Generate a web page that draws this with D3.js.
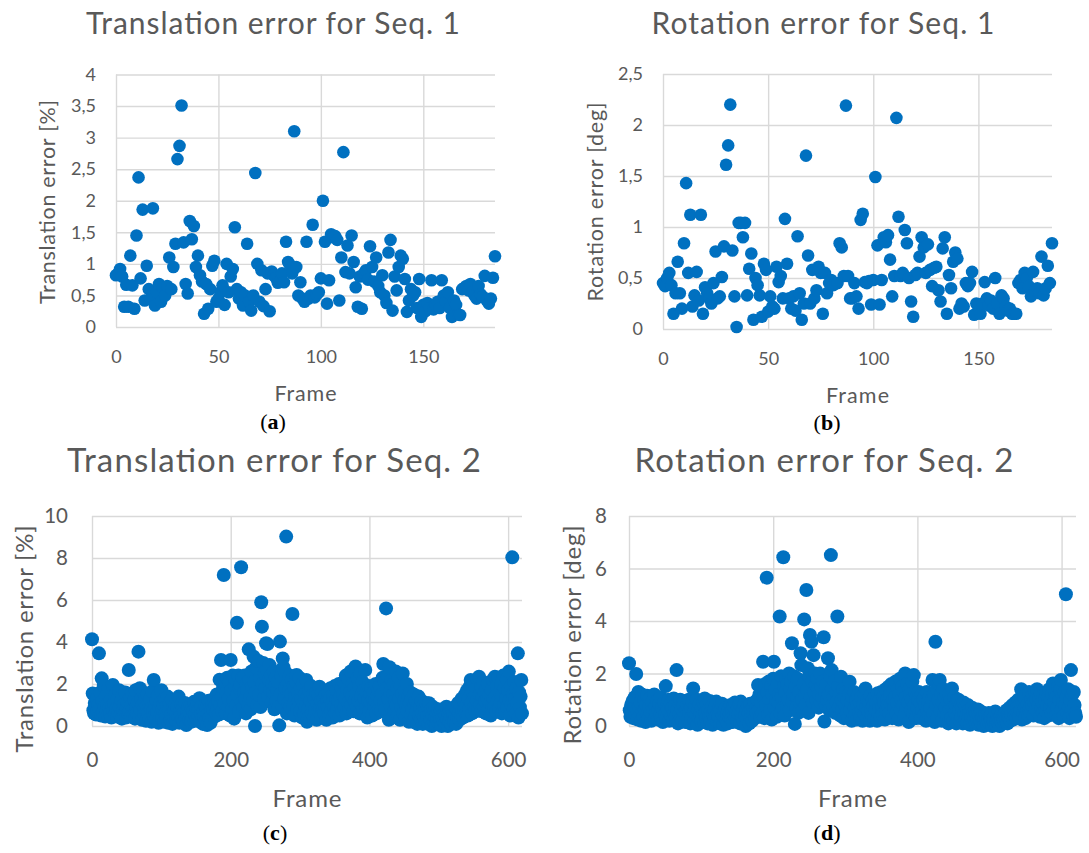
<!DOCTYPE html>
<html>
<head>
<meta charset="utf-8">
<script src="https://cdn.jsdelivr.net/npm/d3@7/dist/d3.min.js"></script>
<style>
  body { margin: 0; background: #fff; }
  svg { display: block; font-family: Lato, "Open Sans", sans-serif; }
</style>
</head>
<body>
<script>
// Seq. 1 – one value per frame (0..185)
var seq1Translation = [
  0.82, 0.85, 0.92, 0.8, 0.32, 0.67, 0.32, 1.13, 0.66, 0.29,
  1.45, 2.37, 0.77, 1.86, 0.42, 0.97, 0.6, 0.45, 1.88, 0.34,
  0.55, 0.68, 0.4, 0.62, 0.5, 0.65, 1.1, 0.6, 0.95, 1.32,
  2.66, 2.87, 3.51, 1.34, 0.68, 0.53, 1.68, 1.39, 1.6, 0.95,
  1.13, 0.82, 0.72, 0.21, 0.68, 0.29, 0.6, 0.97, 1.05, 0.4,
  0.45, 0.55, 0.66, 0.35, 1.0, 0.55, 0.8, 0.92, 1.58, 0.6,
  0.45, 0.55, 0.34, 0.5, 1.32, 0.4, 0.26, 0.5, 2.44, 1.0,
  0.4, 0.9, 0.33, 0.6, 0.85, 0.25, 0.88, 0.82, 0.78, 0.7,
  0.72, 0.85, 0.71, 1.35, 1.03, 0.98, 0.85, 3.1, 0.95, 0.5,
  0.71, 0.45, 0.4, 1.35, 0.45, 0.5, 1.62, 0.47, 0.52, 0.55,
  0.77, 2.0, 1.35, 0.37, 0.74, 1.47, 1.42, 1.44, 1.38, 0.42,
  1.1, 2.77, 0.87, 1.29, 0.85, 1.45, 1.03, 0.63, 0.32, 0.8,
  0.29, 0.85, 0.9, 0.75, 1.28, 0.95, 0.72, 1.1, 0.65, 0.55,
  0.82, 0.5, 0.38, 1.18, 1.38, 0.26, 0.8, 0.58, 0.95, 1.13,
  1.08, 0.76, 0.24, 0.42, 0.6, 0.5, 0.55, 0.3, 0.76, 0.16,
  0.35, 0.25, 0.38, 0.3, 0.74, 0.28, 0.35, 0.4, 0.3, 0.74,
  0.5, 0.4, 0.55, 0.3, 0.16, 0.42, 0.35, 0.2, 0.19, 0.6,
  0.62, 0.65, 0.58, 0.68, 0.55, 0.5, 0.45, 0.65, 0.52, 0.48,
  0.81, 0.42, 0.37, 0.45, 0.78, 1.12
];
var seq1Rotation = [
  0.45, 0.42, 0.5, 0.55, 0.43, 0.15, 0.35, 0.66, 0.35, 0.2,
  0.84, 1.43, 0.55, 1.12, 0.22, 0.33, 0.56, 0.28, 1.12, 0.15,
  0.41, 0.35, 0.3, 0.25, 0.45, 0.76, 0.3, 0.32, 0.51, 0.81,
  1.61, 1.8, 2.2, 0.77, 0.32, 0.02, 1.04, 1.04, 0.9, 1.04,
  0.33, 0.59, 0.74, 0.09, 0.5, 0.43, 0.33, 0.12, 0.64, 0.58,
  0.17, 0.32, 0.22, 0.2, 0.61, 0.46, 0.52, 0.3, 1.08, 0.64,
  0.3, 0.2, 0.32, 0.18, 0.91, 0.35, 0.09, 0.25, 1.7, 0.72,
  0.25, 0.58, 0.3, 0.38, 0.61, 0.55, 0.15, 0.55, 0.35, 0.45,
  0.48, 0.43, 0.45, 0.45, 0.84, 0.8, 0.52, 2.19, 0.52, 0.3,
  0.3, 0.45, 0.32, 0.2, 1.07, 1.13, 0.46, 0.45, 0.47, 0.24,
  0.48, 1.49, 0.82, 0.24, 0.48, 0.9, 0.85, 0.92, 0.68, 0.32,
  0.52, 2.07, 1.1, 0.52, 0.55, 0.97, 0.84, 0.5, 0.27, 0.12,
  0.53, 0.55, 0.71, 0.9, 0.8, 0.55, 0.83, 0.58, 0.42, 0.6,
  0.61, 0.38, 0.27, 0.79, 0.9, 0.15, 0.53, 0.4, 0.66, 0.75,
  0.69, 0.2, 0.25, 0.22, 0.45, 0.42, 0.45, 0.56, 0.14, 0.25,
  0.22, 0.15, 0.25, 0.46, 0.3, 0.23, 0.28, 0.2, 0.5, 0.25,
  0.15, 0.33, 0.3, 0.22, 0.18, 0.2, 0.15, 0.15, 0.15, 0.45,
  0.48, 0.4, 0.55, 0.5, 0.42, 0.32, 0.56, 0.38, 0.4, 0.35,
  0.71, 0.33, 0.4, 0.62, 0.45, 0.84
];

// Seq. 2 – one value per frame (0..620)
var seq2Translation = [
  4.13, 1.55, 0.75, 0.6, 1.1, 0.9, 0.55, 1.3, 0.7, 1.0, 3.46, 0.8, 1.6, 0.5, 2.27, 1.2, 0.65, 1.9, 0.9, 0.45,
  1.4, 0.7, 1.05, 0.5, 1.8, 0.85, 0.6, 1.25, 0.4, 0.95, 1.95, 0.7, 1.1, 0.55, 1.5, 0.8, 0.45, 1.3, 0.65, 1.7,
  0.9, 0.5, 1.2, 0.35, 1.45, 0.75, 1.0, 0.55, 1.6, 0.4, 0.85, 1.15, 0.6, 2.67, 0.7, 1.35, 0.45, 1.0, 1.55, 0.8,
  0.5, 1.25, 0.35, 1.7, 0.9, 0.6, 1.1, 3.54, 0.45, 1.8, 0.75, 1.3, 0.3, 1.0, 1.6, 0.55, 0.85, 1.4, 0.25, 0.95,
  1.5, 0.6, 1.1, 0.35, 1.3, 0.8, 0.2, 1.65, 0.7, 2.19, 0.45, 1.0, 0.3, 1.2, 0.65, 1.45, 0.15, 0.9, 1.1, 0.5,
  1.7, 0.35, 0.8, 1.05, 0.2, 1.3, 0.6, 0.4, 0.95, 1.4, 0.15, 0.75, 1.1, 0.3, 0.55, 1.25, 0.1, 0.85, 0.45, 0.7,
  1.0, 0.25, 0.6, 0.9, 0.4, 1.4, 0.15, 0.7, 0.5, 1.05, 0.3, 0.8, 0.2, 0.65, 1.1, 0.35, 0.05, 0.75, 0.45, 0.9,
  0.3, 0.6, 1.0, 0.2, 0.8, 0.4, 0.7, 1.15, 0.25, 0.55, 0.9, 0.35, 1.1, 0.5, 0.75, 1.32, 0.2, 0.6, 0.95, 0.4,
  0.1, 0.7, 0.45, 1.0, 0.25, 0.85, 0.05, 0.6, 1.2, 0.35, 0.9, 0.15, 0.7, 1.1, 0.5, 0.8, 1.3, 0.45, 1.0, 0.6,
  1.5, 0.8, 1.2, 0.55, 2.2, 1.0, 3.14, 1.4, 0.7, 1.8, 7.19, 1.1, 2.0, 0.6, 1.6, 2.3, 0.9, 1.3, 2.1, 0.5,
  3.14, 1.7, 0.8, 2.4, 1.2, 0.35, 1.9, 2.2, 1.0, 4.92, 1.5, 2.4, 0.7, 1.8, 2.0, 7.56, 1.1, 2.3, 0.9, 1.6,
  2.4, 1.3, 0.6, 2.0, 1.7, 1.0, 3.65, 2.2, 1.4, 0.8, 2.6, 1.9, 1.2, 3.3, 2.1, 0.0, 1.6, 2.8, 1.0, 2.75,
  3.1, 1.5, 2.3, 0.9, 5.89, 4.73, 2.0, 3.0, 1.3, 2.5, 1.8, 3.94, 2.7, 3.9, 1.4, 2.2, 2.9, 1.7, 2.4, 1.1,
  2.0, 1.6, 2.6, 0.8, 1.9, 2.3, 1.2, 1.7, 2.1, 0.9, 0.03, 4.02, 1.5, 2.4, 1.0, 3.22, 2.8, 1.3, 2.6, 1.8,
  9.02, 0.6, 2.0, 1.1, 1.7, 2.4, 0.9, 1.5, 2.2, 5.33, 1.0, 1.9, 0.5, 1.4, 2.1, 2.43, 0.8, 1.6, 1.2, 2.3,
  0.7, 1.8, 1.3, 0.4, 2.0, 1.1, 0.6, 1.5, 0.9, 2.19, 0.2, 1.4, 0.8, 1.7, 0.5, 1.2, 1.9, 0.6, 1.0, 1.5,
  0.4, 1.3, 0.8, 1.6, 0.3, 1.1, 1.5, 0.7, 1.87, 0.9, 1.2, 0.5, 1.6, 0.8, 1.3, 0.6, 1.0, 1.5, 0.3, 1.2,
  0.9, 1.6, 0.5, 1.3, 1.8, 0.7, 1.1, 0.4, 1.5, 0.9, 1.9, 0.6, 1.3, 1.7, 0.8, 1.2, 2.0, 0.5, 1.4, 1.0,
  1.8, 0.7, 1.5, 2.1, 0.9, 1.3, 2.4, 0.6, 1.7, 1.1, 2.2, 0.8, 1.6, 2.6, 1.0, 1.4, 2.0, 0.7, 1.8, 1.2,
  2.83, 1.5, 0.9, 2.3, 1.2, 1.9, 0.6, 2.5, 1.4, 1.0, 2.1, 0.8, 1.7, 1.3, 2.67, 0.9, 1.6, 0.4, 1.2, 1.9,
  0.7, 1.5, 1.1, 1.8, 0.5, 1.3, 1.6, 0.9, 1.2, 2.0, 0.6, 1.4, 1.0, 1.7, 0.8, 1.9, 1.2, 0.7, 1.5, 2.3,
  2.95, 1.1, 2.1, 0.8, 5.6, 1.8, 2.4, 1.3, 0.3, 2.8, 1.6, 0.9, 2.2, 0.4, 1.5, 2.0, 0.7, 1.2, 2.6, 1.0,
  1.8, 0.5, 2.3, 1.3, 0.3, 1.9, 0.9, 1.5, 2.5, 0.6, 1.2, 1.7, 0.4, 1.0, 2.0, 0.7, 1.4, 0.2, 1.1, 1.6,
  0.5, 1.3, 0.8, 0.2, 1.5, 1.0, 0.4, 1.2, 0.7, 0.1, 1.1, 1.4, 0.5, 0.9, 0.3, 1.2, 0.6, 0.1, 1.0, 0.4,
  0.8, 0.2, 1.1, 0.5, 0.9, 0.1, 1.08, 0.6, 0.3, 0.8, 0.0, 0.5, 0.9, 0.2, 0.7, 0.4, 0.1, 0.6, 0.3, 0.8,
  0.1, 0.5, 0.3, 0.7, 0.0, 0.4, 0.8, 0.2, 0.6, 0.1, 0.5, 0.92, 0.3, 0.0, 0.6, 0.2, 0.7, 0.4, 0.1, 0.8,
  0.3, 0.6, 0.2, 0.9, 0.5, 0.1, 0.8, 0.4, 1.1, 0.6, 0.3, 1.0, 0.5, 1.3, 0.7, 0.4, 1.2, 0.8, 1.5, 0.6,
  1.0, 1.7, 0.5, 1.3, 0.8, 1.9, 2.19, 1.1, 0.6, 1.6, 2.1, 0.9, 1.4, 0.7, 1.8, 1.2, 2.2, 0.8, 2.35, 1.5,
  1.0, 1.9, 0.7, 1.4, 2.1, 0.9, 1.6, 1.2, 0.6, 1.8, 1.3, 2.0, 0.8, 1.5, 1.1, 0.5, 1.7, 1.0, 2.2, 1.3,
  0.9, 2.35, 1.4, 0.7, 1.9, 1.2, 2.3, 0.8, 1.6, 1.1, 2.0, 0.6, 1.5, 2.4, 1.0, 1.8, 0.7, 1.3, 2.2, 0.9,
  1.7, 2.59, 1.2, 0.5, 1.9, 1.0, 8.03, 1.5, 0.8, 2.1, 1.3, 0.6, 1.8, 1.1, 3.46, 0.4, 1.6, 0.9, 1.4, 2.19,
  0.6
];
var seq2Rotation = [
  2.39, 0.6, 0.35, 0.8, 0.5, 0.95, 0.3, 0.7, 1.1, 0.45, 1.98, 0.6, 0.25, 1.3, 0.75, 0.4, 0.9, 0.2, 1.2, 0.55,
  0.35, 1.0, 0.6, 0.15, 0.8, 1.15, 0.45, 0.3, 0.7, 1.05, 0.5, 0.2, 0.9, 0.4, 0.65, 1.2, 0.3, 0.75, 0.5, 0.95,
  0.25, 0.6, 0.85, 0.4, 1.1, 0.3, 0.7, 0.15, 0.55, 0.9, 0.45, 1.52, 0.3, 0.75, 0.6, 1.0, 0.2, 0.5, 0.85, 0.35,
  0.7, 0.25, 1.05, 0.5, 0.8, 0.35, 2.13, 0.6, 0.1, 0.9, 0.45, 1.0, 0.3, 0.65, 0.2, 0.85, 0.5, 0.95, 0.15, 0.6,
  0.4, 0.8, 0.25, 1.0, 0.55, 0.1, 0.7, 0.35, 0.9, 1.43, 0.5, 0.2, 0.75, 0.4, 1.0, 0.05, 0.6, 0.3, 0.85, 0.45,
  0.2, 0.7, 0.4, 0.9, 0.15, 1.05, 0.5, 0.3, 0.8, 0.1, 0.6, 0.35, 0.95, 0.2, 0.55, 0.75, 0.05, 0.45, 0.65, 0.3,
  0.8, 0.93, 0.15, 0.5, 0.35, 0.7, 0.1, 0.6, 0.25, 0.85, 0.4, 0.05, 0.55, 0.3, 0.7, 0.2, 0.5, 0.1, 0.65, 0.35,
  0.45, 0.8, 0.25, 0.6, 0.15, 0.75, 0.4, 0.9, 0.3, 0.55, 0.2, 0.7, 0.45, 0.85, 0.1, 0.93, 0.5, 0.3, 0.65, 0.2,
  0.8, 0.4, 0.0, 0.6, 0.25, 0.75, 0.5, 0.1, 0.85, 0.35, 0.6, 0.2, 0.7, 0.45, 0.9, 0.3, 0.65, 0.5, 1.0, 1.56,
  0.6, 1.2, 0.35, 0.9, 1.4, 0.5, 2.45, 1.1, 0.3, 1.6, 0.8, 5.65, 1.3, 0.45, 1.7, 1.0, 0.6, 1.5, 0.25, 1.2,
  1.8, 2.45, 0.7, 1.4, 1.0, 0.35, 1.6, 0.9, 1.2, 4.17, 0.5, 1.9, 1.1, 0.7, 6.43, 1.5, 0.4, 1.3, 1.8, 0.8,
  1.6, 1.0, 2.0, 0.6, 1.4, 1.7, 3.15, 0.9, 1.2, 1.9, 0.08, 1.5, 0.7, 1.1, 1.8, 0.5, 1.3, 0.9, 2.77, 2.32,
  1.0, 0.6, 1.6, 4.06, 1.2, 0.8, 5.18, 1.4, 2.2, 0.5, 1.9, 3.47, 1.1, 3.21, 1.7, 0.9, 2.7, 1.3, 2.0, 1.6,
  1.0, 1.8, 1.4, 0.7, 1.2, 2.0, 0.9, 1.5, 1.1, 1.7, 3.38, 0.17, 1.3, 0.8, 1.6, 1.0, 2.58, 1.2, 0.6, 1.9,
  6.51, 2.13, 1.4, 0.8, 1.1, 1.7, 0.5, 1.3, 0.9, 4.17, 1.5, 0.7, 1.2, 0.4, 1.88, 1.0, 0.6, 1.4, 0.3, 1.1,
  0.8, 1.3, 0.5, 1.0, 0.3, 1.2, 1.69, 0.6, 0.9, 0.2, 1.1, 0.5, 1.3, 0.7, 0.4, 1.0, 0.25, 0.8, 1.2, 0.5,
  0.9, 0.3, 1.1, 0.6, 0.2, 0.8, 1.2, 0.45, 1.43, 0.7, 0.3, 1.0, 0.55, 0.9, 0.2, 1.15, 0.6, 0.4, 1.0, 0.75,
  0.3, 1.1, 0.6, 0.9, 0.2, 1.25, 0.5, 0.8, 1.0, 0.35, 1.3, 0.7, 0.45, 1.1, 0.9, 0.25, 1.4, 0.6, 1.0, 0.8,
  1.5, 0.5, 1.2, 0.85, 1.6, 0.3, 1.0, 1.35, 0.7, 1.1, 1.7, 0.5, 0.9, 1.4, 0.25, 1.2, 1.8, 0.6, 1.0, 1.5,
  0.8, 1.3, 0.4, 2.0, 1.1, 0.7, 1.6, 0.9, 0.15, 1.4, 1.2, 0.6, 1.0, 1.7, 0.5, 1.94, 0.8, 1.3, 0.3, 1.1,
  0.7, 1.0, 1.3, 0.5, 0.9, 0.3, 1.2, 0.6, 1.0, 0.4, 1.1, 0.8, 0.2, 1.3, 0.6, 0.95, 0.4, 1.1, 0.7, 0.3,
  1.0, 1.75, 0.5, 1.2, 0.15, 3.21, 0.8, 1.4, 0.3, 1.0, 1.6, 1.75, 0.6, 1.2, 0.2, 0.9, 1.4, 0.5, 1.1, 0.7,
  1.3, 0.4, 0.9, 0.1, 1.2, 0.6, 1.0, 0.3, 1.43, 0.7, 0.2, 1.1, 0.5, 0.8, 0.1, 1.0, 0.4, 1.0, 0.6, 0.2,
  0.8, 0.35, 0.7, 0.1, 0.9, 0.5, 0.2, 0.75, 0.4, 0.1, 0.8, 0.3, 0.6, 0.05, 0.55, 0.35, 0.7, 0.15, 0.5, 0.3,
  0.6, 0.1, 0.45, 0.25, 0.63, 0.05, 0.4, 0.2, 0.55, 0.1, 0.35, 0.5, 0.0, 0.3, 0.45, 0.15, 0.4, 0.05, 0.3, 0.5,
  0.1, 0.35, 0.2, 0.45, 0.0, 0.3, 0.15, 0.4, 0.55, 0.05, 0.25, 0.4, 0.1, 0.3, 0.0, 0.35, 0.2, 0.45, 0.1, 0.3,
  0.4, 0.15, 0.5, 0.25, 0.6, 0.1, 0.45, 0.3, 0.7, 0.2, 0.55, 0.35, 0.8, 0.25, 0.6, 0.4, 0.9, 0.3, 0.7, 0.5,
  1.0, 0.35, 0.8, 0.6, 1.4, 0.25, 0.9, 0.5, 1.1, 0.7, 0.3, 1.2, 0.6, 0.85, 0.4, 1.3, 0.7, 0.5, 1.0, 0.8,
  1.2, 0.4, 0.9, 1.3, 0.6, 1.0, 1.4, 0.5, 0.8, 1.1, 0.35, 1.25, 0.7, 0.9, 0.5, 1.2, 0.3, 1.0, 0.6, 1.3,
  0.8, 1.1, 0.4, 1.4, 0.7, 1.0, 0.5, 1.2, 1.62, 0.6, 0.9, 1.3, 0.4, 1.1, 0.7, 1.5, 0.3, 1.0, 1.4, 1.75,
  0.6, 1.2, 0.9, 0.4, 1.3, 0.8, 5.02, 1.1, 0.5, 1.4, 0.7, 0.3, 1.0, 2.13, 0.6, 1.2, 0.4, 1.3, 0.8, 0.5,
  0.35
];

// tick labels
var seq1FrameTicks = [0, 50, 100, 150];
var seq2FrameTicks = [0, 200, 400, 600];
var seq1TransTicks = [0, 0.5, 1, 1.5, 2, 2.5, 3, 3.5, 4];
var seq1RotTicks = [0, 0.5, 1, 1.5, 2, 2.5];
var seq2TransTicks = [0, 2, 4, 6, 8, 10];
var seq2RotTicks = [0, 2, 4, 6, 8];

var width = 1089;
var height = 853;
var textColor = "#595959";
var gridColor = "#d9d9d9";
var dotColor = "#0070c0";

var svg = d3.select("body")
  .append("svg")
  .attr("width", width)
  .attr("height", height);

// panel layout (pixels); *Len = text widths measured on the figure
var panels = [
  { values: seq1Translation, xMax: 185, xTicks: seq1FrameTicks, yTicks: seq1TransTicks,
    title: "Translation error for Seq. 1", yTitle: "Translation error [%]", tag: "a",
    left: 116, right: 495, top: 74.5, bottom: 327, r: 6.3,
    titleX: 273, titleY: 34, titleLen: 374, yTitleX: 47, yTitleY: 202, yTitleLen: 204,
    frameY: 401, frameLen: 62, tagX: 273, tagY: 429,
    titleSize: 30, tickSize: 18, axisSize: 21.5, tickPadX: 23, tickPadY: 20 },
  { values: seq1Rotation, xMax: 185, xTicks: seq1FrameTicks, yTicks: seq1RotTicks,
    title: "Rotation error for Seq. 1", yTitle: "Rotation error [deg]", tag: "b",
    left: 663, right: 1052, top: 74, bottom: 329, r: 6.3,
    titleX: 823, titleY: 34, titleLen: 343, yTitleX: 595, yTitleY: 202, yTitleLen: 199,
    frameY: 403, frameLen: 63, tagX: 827, tagY: 430,
    titleSize: 30, tickSize: 18, axisSize: 21.5, tickPadX: 23, tickPadY: 20 },
  { values: seq2Translation, xMax: 620, xTicks: seq2FrameTicks, yTicks: seq2TransTicks,
    title: "Translation error for Seq. 2", yTitle: "Translation error [%]", tag: "c",
    left: 92, right: 522, top: 516, bottom: 726, r: 7,
    titleX: 274, titleY: 472, titleLen: 414, yTitleX: 23, yTitleY: 639, yTitleLen: 227,
    frameY: 807, frameLen: 69, tagX: 275, tagY: 840,
    titleSize: 33, tickSize: 20.5, axisSize: 24, tickPadX: 26, tickPadY: 24 },
  { values: seq2Rotation, xMax: 620, xTicks: seq2FrameTicks, yTicks: seq2RotTicks,
    title: "Rotation error for Seq. 2", yTitle: "Rotation error [deg]", tag: "d",
    left: 629, right: 1076, top: 516, bottom: 726, r: 7,
    titleX: 824, titleY: 472, titleLen: 379, yTitleX: 571, yTitleY: 635, yTitleLen: 219,
    frameY: 807, frameLen: 69, tagX: 827, tagY: 840,
    titleSize: 33, tickSize: 20.5, axisSize: 24, tickPadX: 26, tickPadY: 22 }
];

function commaNum(d) {
  return String(d).replace(".", ",");
}

panels.forEach(function (p) {
  var x = d3.scaleLinear().domain([0, p.xMax]).range([p.left, p.right]);
  var y = d3.scaleLinear()
    .domain([0, p.yTicks[p.yTicks.length - 1]])
    .range([p.bottom, p.top]);
  var g = svg.append("g");

  // horizontal gridlines + y tick labels
  var yAxis = g.append("g")
    .attr("transform", "translate(" + p.left + ",0)")
    .call(d3.axisLeft(y)
      .tickValues(p.yTicks)
      .tickFormat(commaNum)
      .tickSize(-(p.right - p.left))
      .tickPadding(p.tickPadY));

  // vertical gridlines + x tick labels
  var xAxis = g.append("g")
    .attr("transform", "translate(0," + p.bottom + ")")
    .call(d3.axisBottom(x)
      .tickValues(p.xTicks)
      .tickFormat(commaNum)
      .tickSize(-(p.bottom - p.top))
      .tickPadding(p.tickPadX));

  [yAxis, xAxis].forEach(function (a) {
    a.select(".domain").remove();
    a.selectAll("line").attr("stroke", gridColor).attr("stroke-width", 1.4);
    a.selectAll("text")
      .attr("fill", textColor)
      .attr("font-family", "Lato, 'Open Sans', sans-serif")
      .attr("font-size", p.tickSize);
  });

  // points
  g.append("g")
    .selectAll("circle")
    .data(p.values)
    .enter()
    .append("circle")
    .attr("cx", function (d, i) { return x(i); })
    .attr("cy", function (d) { return y(d); })
    .attr("r", p.r)
    .attr("fill", dotColor);

  // chart title
  g.append("text")
    .attr("x", p.titleX)
    .attr("y", p.titleY)
    .attr("text-anchor", "middle")
    .attr("fill", textColor)
    .attr("font-size", p.titleSize)
    .attr("textLength", p.titleLen)
    .attr("lengthAdjust", "spacing")
    .text(p.title);

  // axis titles
  g.append("text")
    .attr("x", (p.left + p.right) / 2)
    .attr("y", p.frameY)
    .attr("text-anchor", "middle")
    .attr("fill", textColor)
    .attr("font-size", p.axisSize)
    .attr("textLength", p.frameLen)
    .attr("lengthAdjust", "spacing")
    .text("Frame");

  g.append("text")
    .attr("transform", "translate(" + p.yTitleX + "," + p.yTitleY + ") rotate(-90)")
    .attr("text-anchor", "middle")
    .attr("dominant-baseline", "central")
    .attr("fill", textColor)
    .attr("font-size", p.axisSize)
    .attr("textLength", p.yTitleLen)
    .attr("lengthAdjust", "spacing")
    .text(p.yTitle);

  // sub-figure tag, e.g. (a)
  var tag = g.append("text")
    .attr("x", p.tagX)
    .attr("y", p.tagY)
    .attr("text-anchor", "middle")
    .attr("fill", "#000")
    .attr("font-family", "'Liberation Serif', 'DejaVu Serif', serif")
    .attr("font-size", 22);
  tag.append("tspan").text("(");
  tag.append("tspan").attr("font-weight", "bold").text(p.tag);
  tag.append("tspan").text(")");
});
</script>
</body>
</html>
